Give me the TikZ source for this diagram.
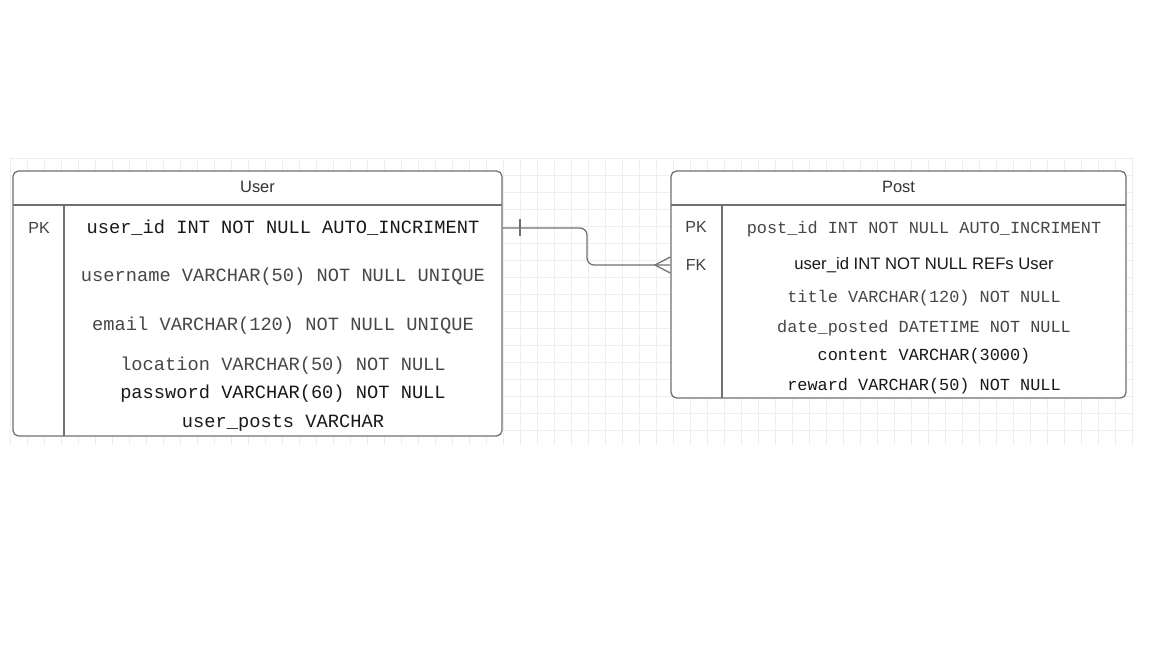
\documentclass[tikz,border=0pt]{standalone}
\usepackage{fontspec}
\setmainfont{Liberation Sans}
\setmonofont{Liberation Mono}
\definecolor{edgegray}{RGB}{112,112,112}
\definecolor{gridgray}{RGB}{238,238,238}

\begin{document}
\begin{tikzpicture}[x=0.025cm,y=-0.025cm]

\tikzstyle{gridline}=[draw=gridgray,line width=0.4pt]
\tikzstyle{table}=[rectangle,draw=edgegray,line width=0.9pt,rounded corners=4pt,inner sep=0pt]
\tikzstyle{rule}=[draw=edgegray,line width=0.9pt]
\tikzstyle{rel}=[draw=edgegray,line width=0.9pt,rounded corners=5pt]
\tikzstyle{title}=[font=\fontsize{11.7pt}{14pt}\selectfont,text=black!80]
\tikzstyle{key}=[font=\fontsize{11.4pt}{14pt}\selectfont,text=black!75]
\tikzstyle{ucol}=[font=\fontsize{13.3pt}{16pt}\selectfont\ttfamily]
\tikzstyle{pcol}=[font=\fontsize{12pt}{15pt}\selectfont\ttfamily]
\tikzstyle{dark}=[text=black!90]
\tikzstyle{soft}=[text=black!72]

\useasboundingbox (0,0) rectangle (1152,648);

% background grid
\foreach \gx in {10,27,...,1133} \draw[gridline] (\gx,158) -- (\gx,445);
\foreach \gy in {158,175,...,445} \draw[gridline] (10,\gy) -- (1133,\gy);

% User table
\node[table,fill=white,minimum width=12.225cm,minimum height=6.625cm] (user) at (257.5,303.5) {};
\draw[rule] (13,205) -- (502,205);
\draw[rule] (64,205) -- (64,436);

\node[title]      (usertitle) at (257.5,187) {User};
\node[key]        (userpk)    at (39,228)    {PK};
\node[ucol,dark]  (uid)       at (283,228)   {user\_id INT NOT NULL AUTO\_INCRIMENT};
\node[ucol,soft]  (uname)     at (283,277)   {username VARCHAR(50) NOT NULL UNIQUE};
\node[ucol,soft]  (uemail)    at (283,326)   {email VARCHAR(120) NOT NULL UNIQUE};
\node[ucol,soft]  (uloc)      at (283,366)   {location VARCHAR(50) NOT NULL};
\node[ucol,dark]  (upass)     at (283,394)   {password VARCHAR(60) NOT NULL};
\node[ucol,dark]  (uposts)    at (283,423)   {user\_posts VARCHAR};

% Post table
\node[table,fill=white,minimum width=11.375cm,minimum height=5.675cm] (post) at (898.5,284.5) {};
\draw[rule] (671,205) -- (1126,205);
\draw[rule] (722,205) -- (722,398);

\node[title]      (posttitle) at (898.5,187) {Post};
\node[key]        (postpk)    at (696,227)   {PK};
\node[key]        (postfk)    at (696,265)   {FK};
\node[pcol,soft]  (pid)       at (924,229)   {post\_id INT NOT NULL AUTO\_INCRIMENT};
\node[dark,font=\fontsize{11.85pt}{14pt}\selectfont]
                  (fk)        at (924,265)   {user\_id INT NOT NULL REFs User};
\node[pcol,soft]  (ptitle)    at (924,298)   {title VARCHAR(120) NOT NULL};
\node[pcol,soft]  (pdate)     at (924,328)   {date\_posted DATETIME NOT NULL};
\node[pcol,dark]  (pcontent)  at (924,356)   {content VARCHAR(3000)};
\node[pcol,dark]  (preward)   at (924,386)   {reward VARCHAR(50) NOT NULL};

% one user -- many posts
\coordinate (bend) at (587,228);
\draw[rel] (user.east |- bend) -- (bend) -- (bend |- fk) -- (post.west |- fk);
\draw[rule] (520,219) -- (520,236);
\draw[rule] (post.west |- 0,257) -- (655,265) -- (post.west |- 0,273);

\end{tikzpicture}
\end{document}
